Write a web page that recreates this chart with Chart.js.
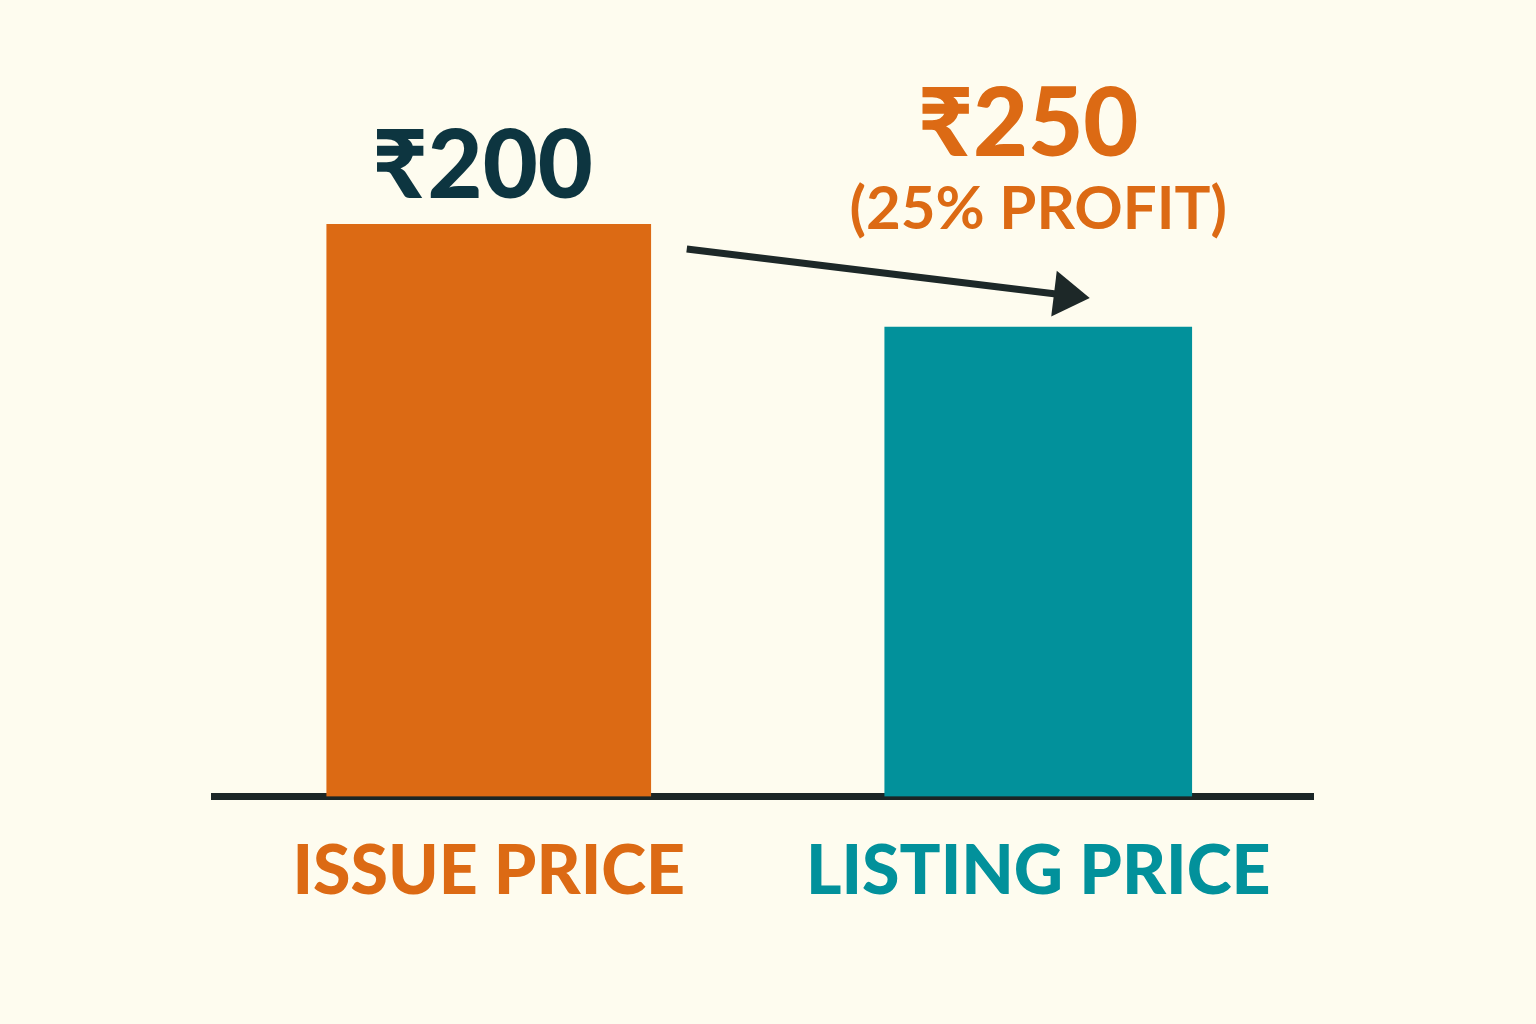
<!DOCTYPE html>
<html>
<head>
<meta charset="utf-8">
<script src="https://cdn.jsdelivr.net/npm/chart.js@4/dist/chart.umd.min.js"></script>
<style>
  html, body { margin: 0; padding: 0; background: #fefcef; }
  canvas { display: block; }
</style>
</head>
<body>
<canvas id="ipoChart" width="1536" height="1024"></canvas>
<script>
// categorías y valores
const categories = ['ISSUE PRICE', 'LISTING PRICE'];
const priceLabels = ['₹200', '₹250'];
const profitNote = '(25% PROFIT)';
// alturas de las barras tal como se ven en la imagen (la de listing es más baja)
const barHeights = [200, 164];
const barColors = ['#dc6a14', '#02919b'];
const labelColors = ['#0d3540', '#dc6a14'];

const FONT = "Lato, 'Noto Sans', 'DejaVu Sans', sans-serif";

// etiquetas encima de las barras y la flecha
const annotations = {
    id: 'annotations',
    afterDatasetsDraw(chart) {
        const ctx = chart.ctx;
        const issueBar = chart.getDatasetMeta(0).data[0];
        const listBar = chart.getDatasetMeta(1).data[1];
        ctx.save();
        ctx.textAlign = 'center';
        ctx.textBaseline = 'alphabetic';

        ctx.font = `900 95px ${FONT}`;
        ctx.fillStyle = labelColors[0];
        ctx.fillText(priceLabels[0], issueBar.x - 6, issueBar.y - 26);

        ctx.fillStyle = labelColors[1];
        ctx.fillText(priceLabels[1], listBar.x - 10, listBar.y - 171);
        ctx.font = `bold 60px ${FONT}`;
        ctx.fillText(profitNote, listBar.x, listBar.y - 98);

        // flecha
        const x0 = issueBar.x + issueBar.width / 2 + 36, y0 = issueBar.y + 25;
        const x1 = listBar.x - listBar.width / 2 + 205, y1 = listBar.y - 29;
        const ang = Math.atan2(y1 - y0, x1 - x0);
        const headLen = 36, headW = 23;
        const bx = x1 - headLen * Math.cos(ang), by = y1 - headLen * Math.sin(ang);
        ctx.strokeStyle = '#1d2828';
        ctx.fillStyle = '#1d2828';
        ctx.lineWidth = 7;
        ctx.beginPath();
        ctx.moveTo(x0, y0);
        ctx.lineTo(bx + 2 * Math.cos(ang), by + 2 * Math.sin(ang));
        ctx.stroke();
        ctx.beginPath();
        ctx.moveTo(x1, y1);
        ctx.lineTo(bx + headW * Math.sin(ang), by - headW * Math.cos(ang));
        ctx.lineTo(bx - headW * Math.sin(ang), by + headW * Math.cos(ang));
        ctx.closePath();
        ctx.fill();
        ctx.restore();
    }
};

new Chart(document.getElementById('ipoChart').getContext('2d'), {
    type: 'bar',
    data: {
        labels: categories,
        datasets: [
            { data: [barHeights[0], null], backgroundColor: barColors[0], barThickness: 324 },
            { data: [null, barHeights[1]], backgroundColor: barColors[1], barThickness: 307 },
        ],
    },
    options: {
        responsive: false,
        devicePixelRatio: 1,
        animation: false,
        layout: { padding: { top: 224, left: 214, right: 223, bottom: 76 } },
        plugins: { legend: { display: false }, tooltip: { enabled: false } },
        scales: {
            x: {
                stacked: true,
                grid: { display: false, drawTicks: false },
                border: { display: true, color: '#1b2626', width: 7 },
                ticks: {
                    padding: 35,
                    color: barColors,
                    font: { family: FONT, size: 68, weight: '900' },
                },
            },
            y: {
                display: false,
                beginAtZero: true,
                min: 0,
                max: 200,
            },
        },
    },
    plugins: [annotations],
});
</script>
</body>
</html>
